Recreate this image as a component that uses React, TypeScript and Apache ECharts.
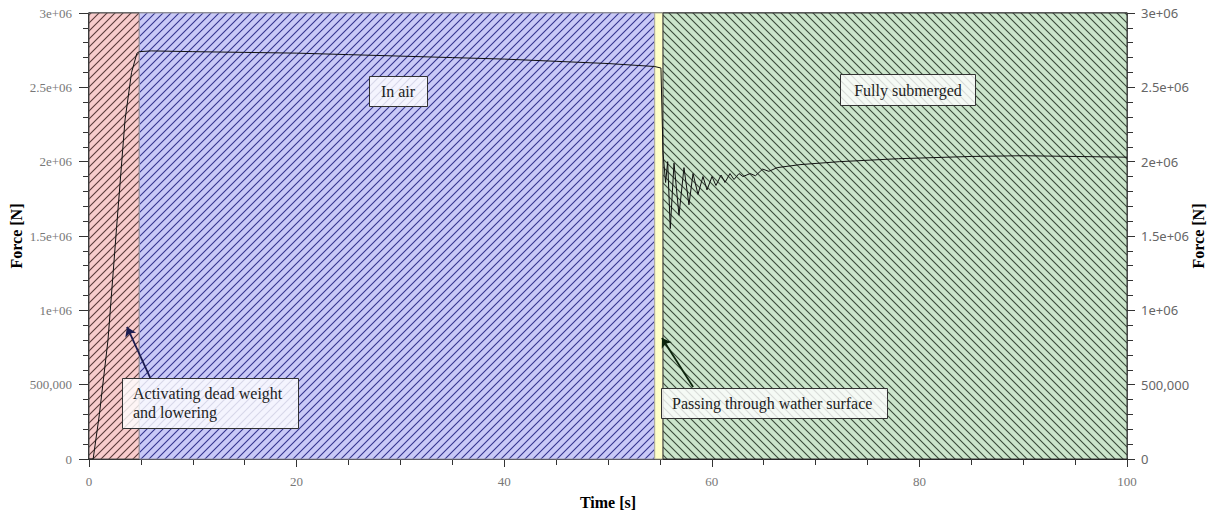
import React, { useEffect, useRef } from "react";
import * as echarts from "echarts";

// ---- data ----
const times = [
  0, 0.4, 1.0, 1.83, 2.65, 3.47, 4.1, 4.62, 4.85,
  6, 10, 15, 20, 25, 30, 35, 40, 45, 50, 54.5, 55.1,
  55.3, 55.55, 55.75, 56.0, 56.36, 56.84, 57.32, 57.8, 58.19, 58.67, 59.15, 59.54,
  60.02, 60.4, 60.89, 61.27, 61.75, 62.14, 62.62, 63.0, 63.7, 64.2, 64.9, 65.5,
  66.3, 68.5, 72.3, 78, 85, 90, 95, 100,
];
const forces = [
  0, 0, 300000, 800000, 1550000, 2280000, 2600000, 2730000, 2740000,
  2745000, 2740000, 2735000, 2730000, 2720000, 2710000, 2700000, 2690000, 2675000, 2660000, 2640000, 2630000,
  2060000, 1860000, 2000000, 1550000, 1990000, 1640000, 1960000, 1710000, 1920000, 1780000, 1900000, 1810000,
  1900000, 1840000, 1910000, 1860000, 1920000, 1880000, 1920000, 1900000, 1920000, 1905000, 1950000, 1935000,
  1960000, 1980000, 2000000, 2020000, 2035000, 2040000, 2035000, 2030000,
];

const regionStart = [0, 4.85, 54.5, 55.3];
const regionEnd = [4.85, 54.5, 55.3, 100];

const yTickValues = [0, 500000, 1000000, 1500000, 2000000, 2500000, 3000000];
const yTickLabels = ["0", "500,000", "1e+06", "1.5e+06", "2e+06", "2.5e+06", "3e+06"];

const annotationTexts = [
  "In air",
  "Fully submerged",
  "Activating dead weight\nand lowering",
  "Passing through wather surface",
];
const arrowFrom = [
  [5.9, 545000],
  [58.2, 484000],
];
const arrowTo = [
  [3.66, 888000],
  [55.2, 814000],
];

function makeHatch(bg: string, fg: string, dir: string) {
  const s = 8;
  const c = document.createElement("canvas");
  c.width = s;
  c.height = s;
  const ctx = c.getContext("2d")!;
  ctx.fillStyle = bg;
  ctx.fillRect(0, 0, s, s);
  ctx.strokeStyle = fg;
  ctx.lineWidth = 1.1;
  ctx.beginPath();
  if (dir === "/") {
    ctx.moveTo(-1, s + 1);
    ctx.lineTo(s + 1, -1);
    ctx.moveTo(-1, 1);
    ctx.lineTo(1, -1);
    ctx.moveTo(s - 1, s + 1);
    ctx.lineTo(s + 1, s - 1);
  } else {
    ctx.moveTo(-1, -1);
    ctx.lineTo(s + 1, s + 1);
    ctx.moveTo(s - 1, -1);
    ctx.lineTo(s + 1, 1);
    ctx.moveTo(-1, s - 1);
    ctx.lineTo(1, s + 1);
  }
  ctx.stroke();
  return { image: c, repeat: "repeat", imageWidth: s, imageHeight: s };
}

const SERIF = "'Liberation Serif', 'Times New Roman', serif";
const SANS = "'Noto Sans', 'DejaVu Sans', sans-serif";

function fmtY(v: number) {
  const i = yTickValues.indexOf(v);
  return i >= 0 ? yTickLabels[i] : "";
}

export default function App() {
  const ref = useRef<HTMLDivElement>(null);
  useEffect(() => {
    if (!ref.current) return;
    const chart = echarts.init(ref.current, null, { renderer: "svg" });
    const fills: any[] = [
      makeHatch("#f8cccc", "#5a3a3a", "/"),
      makeHatch("#c9c9f7", "#35358f", "/"),
      "#ffffc8",
      makeHatch("#cbe5cb", "#3a4a3a", "\\"),
    ];
    const borders = ["#555", "#99a", "#aa9", "#333"];
    const boxStyle = { fill: "rgba(255,255,255,0.8)", stroke: "#333", lineWidth: 1 };
    const textStyle = (t: string, x: number, y: number, align = "center") => ({
      type: "text",
      x,
      y,
      z: 101,
      style: {
        text: t,
        font: `16px ${SERIF}`,
        fill: "#222",
        align,
        verticalAlign: "middle",
        lineHeight: 19,
      },
    });
    const nameStyle = { fontFamily: SERIF, fontWeight: "bold", fontSize: 16, color: "#000" };
    const option: any = {
      animation: false,
      backgroundColor: "#fff",
      grid: {
        left: 89,
        right: 84,
        top: 13,
        bottom: 54,
        show: true,
        borderColor: "#000",
        borderWidth: 1,
        backgroundColor: "transparent",
        outerBoundsMode: "none",
      },
      xAxis: {
        type: "value",
        min: 0,
        max: 100,
        interval: 20,
        name: "Time [s]",
        nameLocation: "middle",
        nameGap: 35,
        nameMoveOverlap: false,
        nameTextStyle: nameStyle,
        axisLine: { lineStyle: { color: "#000", width: 1.5 } },
        axisTick: { length: 8, lineStyle: { color: "#333" } },
        minorTick: { show: true, splitNumber: 4, length: 6, lineStyle: { color: "#333" } },
        axisLabel: { fontFamily: SERIF, fontSize: 13, color: "#777", margin: 16 },
        splitLine: { show: false },
      },
      yAxis: [
        {
          type: "value",
          min: 0,
          max: 3000000,
          interval: 500000,
          position: "left",
          name: "Force [N]",
          nameLocation: "middle",
          nameRotate: 90,
          nameGap: 65,
          nameMoveOverlap: false,
          nameTextStyle: nameStyle,
          axisLine: { show: true, lineStyle: { color: "#000", width: 1.5 } },
          axisTick: { show: true, length: 10, lineStyle: { color: "#333" } },
          minorTick: { show: true, splitNumber: 5, length: 6, lineStyle: { color: "#333" } },
          axisLabel: { fontFamily: SERIF, fontSize: 13, color: "#777", margin: 17, formatter: fmtY },
          splitLine: { show: false },
        },
        {
          type: "value",
          min: 0,
          max: 3000000,
          interval: 500000,
          position: "right",
          name: "Force [N]",
          nameLocation: "middle",
          nameRotate: 90,
          nameGap: 63,
          nameMoveOverlap: false,
          nameTextStyle: nameStyle,
          axisLine: { show: true, lineStyle: { color: "#555", width: 1.5 } },
          axisTick: { show: true, length: 8, lineStyle: { color: "#333" } },
          minorTick: { show: true, splitNumber: 5, length: 6, lineStyle: { color: "#333" } },
          axisLabel: { fontFamily: SANS, fontSize: 13, color: "#666", margin: 14, formatter: fmtY },
          splitLine: { show: false },
        },
      ],
      series: [
        {
          type: "line",
          data: times.map((t, i) => [t, forces[i]]),
          showSymbol: false,
          symbol: "none",
          lineStyle: { color: "#111", width: 1 },
          z: 3,
          markArea: {
            silent: true,
            label: { show: false },
            data: regionStart.map((s, i) => [
              {
                xAxis: s,
                itemStyle: { color: fills[i], borderColor: borders[i], borderWidth: 1, opacity: 1 },
              },
              { xAxis: regionEnd[i] },
            ]),
          },
          markLine: {
            silent: true,
            symbol: ["none", "arrow"],
            symbolSize: 9,
            label: { show: false },
            data: arrowFrom.map((f, i) => [
              {
                coord: f,
                lineStyle: { color: i === 0 ? "#1c1c50" : "#0c240c", width: 1.8, type: "solid" },
              },
              { coord: arrowTo[i] },
            ]),
          },
        },
      ],
      graphic: [
        { type: "rect", z: 100, shape: { x: 369.5, y: 76.5, width: 58, height: 30 }, style: boxStyle },
        textStyle(annotationTexts[0], 398, 91),
        { type: "rect", z: 100, shape: { x: 840.5, y: 74.5, width: 135, height: 31 }, style: boxStyle },
        textStyle(annotationTexts[1], 908, 90),
        { type: "rect", z: 100, shape: { x: 122.5, y: 378.5, width: 176, height: 50 }, style: boxStyle },
        textStyle(annotationTexts[2], 133, 403, "left"),
        { type: "rect", z: 100, shape: { x: 661.5, y: 388.5, width: 226, height: 30 }, style: boxStyle },
        textStyle(annotationTexts[3], 672, 403, "left"),
      ],
    };
    chart.setOption(option);
    return () => chart.dispose();
  }, []);
  return (
    <div
      ref={ref}
      style={{ position: "fixed", left: 0, top: 0, width: 1211, height: 513, background: "#fff" }}
    />
  );
}
